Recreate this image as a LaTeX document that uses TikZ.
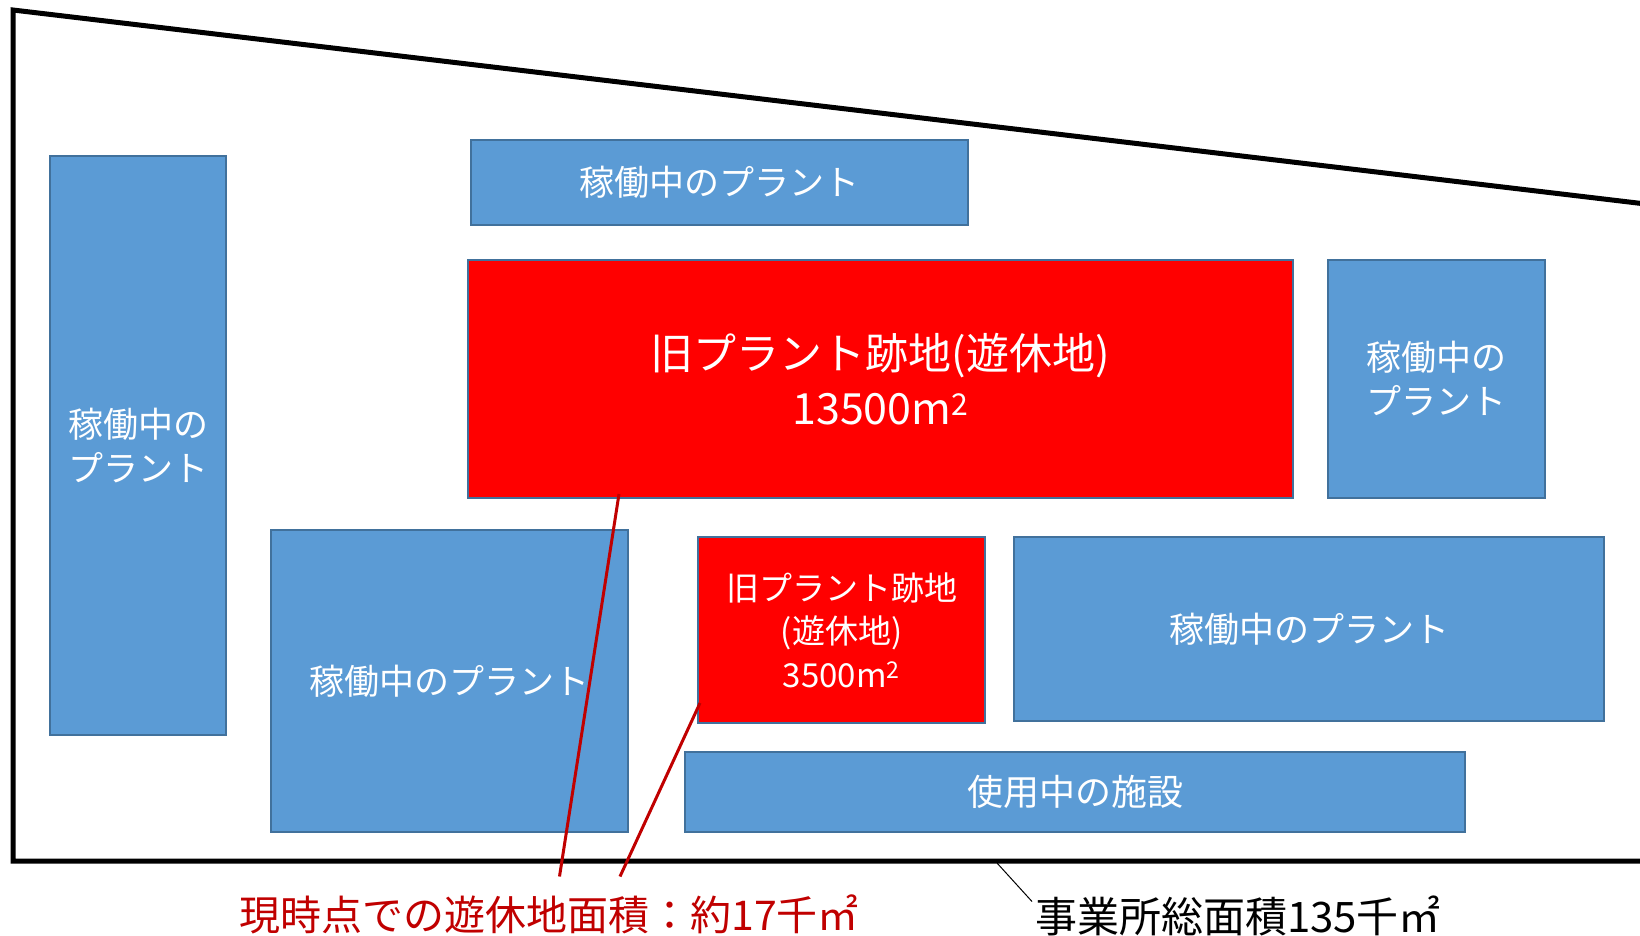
\documentclass[tikz,border=0pt]{standalone}
\usepackage{fontspec}
\setmainfont{Noto Sans CJK JP}
\definecolor{plantblue}{HTML}{5B9BD5}
\definecolor{edgeblue}{HTML}{41719C}
\definecolor{idlered}{HTML}{FF0000}
\definecolor{darkred}{HTML}{C00000}
\begin{document}
\begin{tikzpicture}[x=1pt,y=-1pt,
  area/.style={draw=edgeblue, line width=2pt, text=white, align=center,
    inner sep=0pt, outer sep=0pt, anchor=north west},
  plant/.style={area, fill=plantblue, font=\fontsize{35}{44}\selectfont},
  idle/.style={area, fill=idlered},
  leader/.style={draw=darkred, line width=3pt},
  callout/.style={inner sep=0pt}]
\useasboundingbox (0,0) rectangle (1640,935);
% site boundary
\draw[line width=5pt, line join=miter] (1650,204.5) -- (13,10) -- (13,861) -- (1650,861);
% plants
\node[plant, minimum width=176pt, minimum height=579pt] (pL) at (50,156) {稼働中の\\プラント};
\node[plant, minimum width=497pt, minimum height=85pt] (pT) at (471,140) {稼働中のプラント};
\node[plant, minimum width=217pt, minimum height=238pt] (pR) at (1328,260) {稼働中の\\プラント};
\node[plant, minimum width=357pt, minimum height=302pt] (pBL) at (271,530) {稼働中のプラント};
\node[plant, minimum width=590pt, minimum height=184pt] (pRB) at (1014,537) {稼働中のプラント};
\node[plant, minimum width=780pt, minimum height=80pt, font=\fontsize{36}{44}\selectfont] (fac) at (685,752) {使用中の施設};
% idle land
\node[idle, minimum width=825pt, minimum height=238pt, font=\fontsize{43}{55}\selectfont] (bigidle) at (468,260) {旧プラント跡地(遊休地)\\13500m\textsuperscript{2}};
\node[idle, minimum width=287pt, minimum height=186pt, font=\fontsize{33}{43.5}\selectfont] (smallidle) at (698,537) {旧プラント跡地\\(遊休地)\\3500m\textsuperscript{2}};
% labels
\node[callout, text=darkred, font=\fontsize{41}{48}\selectfont] (idlelabel) at (549,914) {現時点での遊休地面積：約17千㎡};
\node[callout, font=\fontsize{42}{48}\selectfont] (totallabel) at (1238,916) {事業所総面積135千㎡};
% leader lines
\coordinate (s1) at (619,494);
\coordinate (e1) at (559.5,876.5);
\coordinate (s2) at (700,703);
\coordinate (e2) at (620,876.5);
\coordinate (s3) at (997,863);
\coordinate (e3) at (1032,901.5);
\draw[leader] (s1) -- (e1);
\draw[leader] (s2) -- (e2);
\draw[line width=1pt] (s3) -- (e3);
\end{tikzpicture}
\end{document}
